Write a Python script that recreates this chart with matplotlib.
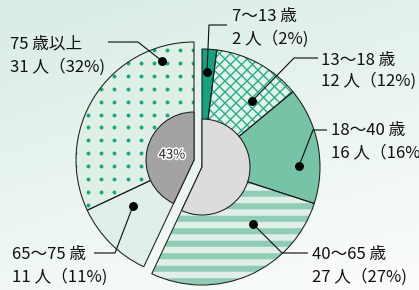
import numpy as np
import matplotlib
matplotlib.use('Agg')
import matplotlib.pyplot as plt
from matplotlib import patheffects as pe
from matplotlib.colors import LinearSegmentedColormap
from matplotlib.collections import LineCollection

plt.rcParams['font.family'] = ['Noto Sans CJK JP', 'DejaVu Sans']

# ---------------- data ----------------
groups = ['7〜13 歳', '13〜18 歳', '18〜40 歳', '40〜65 歳', '65〜75 歳', '75 歳以上']
people = [2, 12, 16, 27, 11, 31]
percent = [2, 12, 16, 27, 11, 32]
right_idx = [0, 1, 2, 3]
left_idx = [4, 5]
left_share_label = '43%'

# ---------------- styling ----------------
W, H, DPI = 419, 290, 75
R_OUT, R_IN = 118, 48
c_right = (202, H - 167)
c_left = (194, H - 160)
fills = ['#14a27f', '#e3f1ea', '#77c3a6', '#e1efe8', '#e0efe8', '#deefe6']
hatches = [None, None, None, '-', None, None]
hatch_cols = [None, None, None, '#8fcdb4', None, None]
hatch_lws = [None, None, None, 5.8, None, None]
EDGE = '#1c1c1c'
TXT = '#111111'

fig = plt.figure(figsize=(W / DPI, H / DPI), dpi=DPI)
ax = fig.add_axes([0, 0, 1, 1])

# background gradient
gx = np.linspace(0, 1, 220)
gy = np.linspace(0, 1, 160)
X, Y = np.meshgrid(gx, gy)
G = 0.7 * Y + 0.3 * X
cmap = LinearSegmentedColormap.from_list('bg', ['#d9ece3', '#fbfdfc'])
ax.imshow(G, cmap=cmap, extent=(0, W, 0, H), origin='upper', aspect='auto', zorder=0)

right_vals = np.array([percent[i] for i in right_idx]) / 100.0
left_vals = np.array([percent[i] for i in left_idx]) / 100.0
start_right = 90
start_left = 90 - 360 * right_vals.sum()


def draw_part(vals, idxs, center, start):
    wedges, _ = ax.pie(vals, radius=R_OUT, center=center, startangle=start,
                       counterclock=False, normalize=False,
                       colors=[fills[i] for i in idxs],
                       wedgeprops=dict(linewidth=0, zorder=1))
    for w, i in zip(wedges, idxs):
        if hatches[i]:
            w.set_edgecolor(hatch_cols[i])
            w.set_linewidth(0)
            w.set_hatch(hatches[i])
            if hasattr(w, 'set_hatch_linewidth'):
                w.set_hatch_linewidth(hatch_lws[i])
    ax.pie(vals, radius=R_OUT, center=center, startangle=start,
           counterclock=False, normalize=False,
           wedgeprops=dict(facecolor='none', edgecolor=EDGE, linewidth=1.0, zorder=2))
    return wedges


wr = draw_part(right_vals, right_idx, c_right, start_right)
wl = draw_part(left_vals, left_idx, c_left, start_left)

# cross-hatch texture on "13〜18 歳"
step = 11.0
ks = np.arange(-600, 900, step)
segs = [[(k, 0), (k + H, H)] for k in ks] + [[(k, 0), (k - H, H)] for k in ks]
xh = LineCollection(segs, colors='#22ad88', linewidths=1.3, zorder=1.5)
ax.add_collection(xh)
xh.set_clip_path(wr[1])

# dotted texture on "75 歳以上"
px = np.arange(193, 60, -13.1)
py = np.arange(50, 290, 12.9)
PX, PY = np.meshgrid(px, py)
dots = ax.scatter(PX.ravel(), H - PY.ravel(), s=14, color='#13a882', linewidths=0, zorder=1.5)
dots.set_clip_path(wl[1])

# inner discs
ax.pie([right_vals.sum()], radius=R_IN, center=c_right, startangle=start_right,
       counterclock=False, normalize=False, colors=['#dcdcdc'],
       wedgeprops=dict(edgecolor=EDGE, linewidth=1.0, zorder=3))
ax.pie([left_vals.sum()], radius=R_IN, center=c_left, startangle=start_left,
       counterclock=False, normalize=False, colors=['#a3a3a3'],
       wedgeprops=dict(edgecolor=EDGE, linewidth=1.0, zorder=3))
ax.text(172, H - 155, left_share_label, fontsize=12.5, color='#222222',
        ha='center', va='center', zorder=6,
        path_effects=[pe.withStroke(linewidth=3, foreground='white')])

# leader lines (pixel layout): dot, elbow, end ; label x, line1 y, line2 y
leaders = {
    0: ((207, 72), (209, 25), (227, 25), 232, 17, 39),
    1: ((252, 101), (294, 58), (318, 58), 321, 60, 81),
    2: ((299, 166), (313, 130), (327, 130), 331, 131, 153),
    3: ((253, 224), (282, 253), (308, 253), 312, 255, 277),
    4: ((133, 206), (115, 253), (94, 253), 12, 254, 277),
    5: ((162, 61), (138, 42), (108, 42), 10, 44, 67),
}
for i, (d, e, f, tx, ty1, ty2) in leaders.items():
    xs = [d[0], e[0], f[0]]
    ys = [H - d[1], H - e[1], H - f[1]]
    ax.plot(xs, ys, color='#111111', lw=1.1, zorder=4, solid_capstyle='butt')
    ax.plot([d[0]], [H - d[1]], 'o', color='black', markersize=7.5, zorder=5)
    ax.text(tx, H - ty1, groups[i], fontsize=16, color=TXT,
            ha='left', va='center', zorder=6)
    ax.text(tx, H - ty2, f'{people[i]} 人（{percent[i]}%)', fontsize=16,
            color=TXT, ha='left', va='center', zorder=6)

ax.set_xlim(0, W)
ax.set_ylim(0, H)
ax.axis('off')
fig.savefig('out.png', dpi=DPI)
